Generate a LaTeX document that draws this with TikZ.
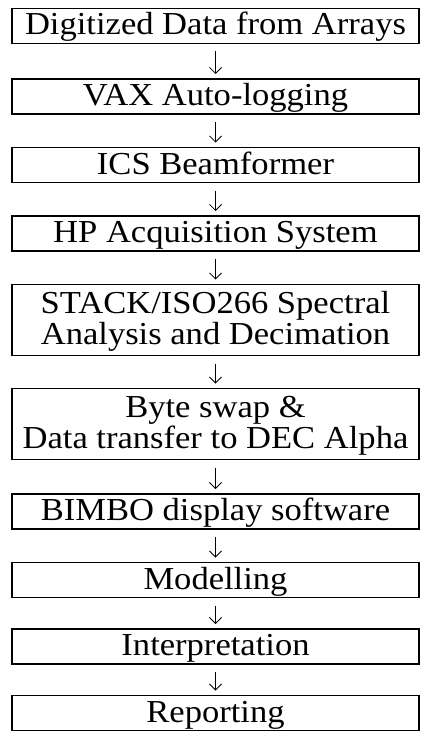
\documentclass[tikz,border=0pt]{standalone}
\usepackage{fontspec}
\setmainfont{Liberation Serif}[FakeStretch=1.08]
\usetikzlibrary{arrows.meta}
\begin{document}
\begin{tikzpicture}[x=1pt,y=-1pt,
  stepbox/.style={draw, line width=1.5pt, minimum width=407pt, inner sep=0pt, outer sep=0pt,
    font=\fontsize{32}{31}\selectfont, align=center},
  single/.style={stepbox, minimum height=35pt, text height=25pt, text depth=7pt},
  double/.style={stepbox, minimum height=71pt},
  flow/.style={line width=0.8pt, -{Straight Barb[length=6pt,width=12pt]}, shorten <=8pt, shorten >=5pt}]
\useasboundingbox (0,0) rectangle (422,733);
\node[single] (b1)  at (215.5,26)    {Digitized Data from Arrays};
\node[single] (b2)  at (215.5,96.5)  {VAX Auto-logging};
\node[single] (b3)  at (215.5,165)   {ICS Beamformer};
\node[single] (b4)  at (215.5,233.5) {HP Acquisition System};
\node[double] (b5)  at (215.5,320)   {\rule{0pt}{25pt}STACK/ISO266 Spectral\\Analysis and Decimation};
\node[double] (b6)  at (215.5,424)   {\rule{0pt}{25pt}Byte swap \&\\Data transfer to DEC Alpha};
\node[single] (b7)  at (215.5,511.5) {BIMBO display software};
\node[single] (b8)  at (215.5,580)   {Modelling};
\node[single] (b9)  at (215.5,646.5) {Interpretation};
\node[single] (b10) at (215.5,713)   {Reporting};
\foreach \a/\b in {b1/b2,b2/b3,b3/b4,b4/b5,b5/b6,b6/b7,b7/b8,b8/b9,b9/b10}
  \draw[flow] (\a.south) -- (\b.north);
\end{tikzpicture}
\end{document}
